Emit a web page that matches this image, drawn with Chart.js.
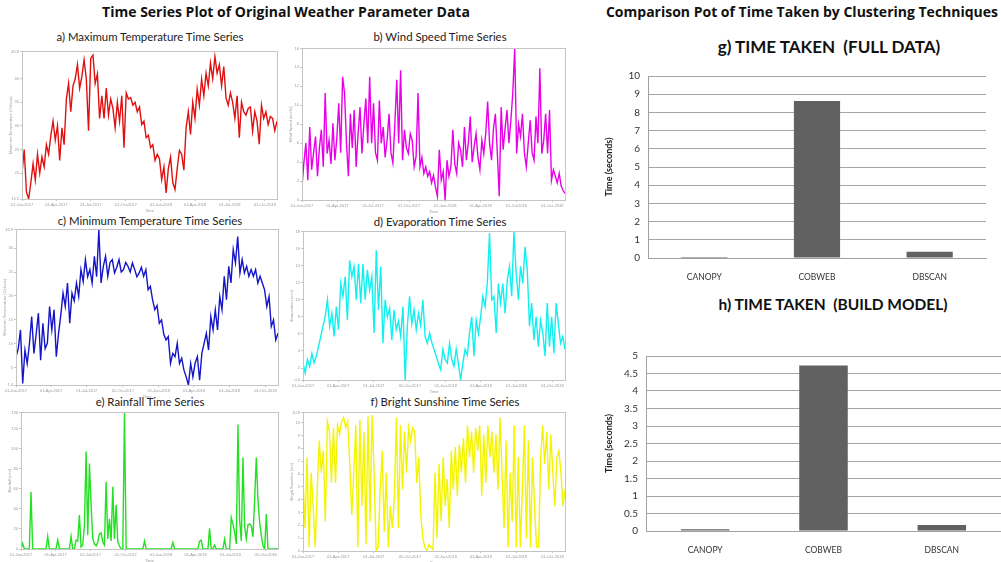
<!DOCTYPE html>
<html>
<head>
<meta charset="utf-8">
<script src="https://cdn.jsdelivr.net/npm/chart.js@4.4.1/dist/chart.umd.min.js"></script>
<style>
  html, body { margin: 0; padding: 0; background: #fff; }
  body { width: 1001px; height: 562px; position: relative; overflow: hidden; font-family: Lato, "Open Sans", sans-serif; }
  .box { position: absolute; }
  .head { position: absolute; font-family: "Open Sans", sans-serif; font-weight: bold; font-size: 14px; color: #111; white-space: nowrap; transform: translateX(-50%); }
  .sub { position: absolute; font-size: 11.4px; color: #222; white-space: nowrap; transform: translateX(-50%); }
  .btitle { position: absolute; font-weight: bold; color: #111; white-space: nowrap; transform: translateX(-50%); }
</style>
</head>
<body>
<div class="head" style="left:286px; top:2px;">Time Series Plot of Original Weather Parameter Data</div>
<div class="head" style="left:802px; top:2px;">Comparison Pot of Time Taken by Clustering Techniques</div>

<div class="sub" style="left:150px; top:30px;">a) Maximum Temperature Time Series</div>
<div class="sub" style="left:440px; top:30px;">b) Wind Speed Time Series</div>
<div class="sub" style="left:150px; top:214px;">c) Minimum Temperature Time Series</div>
<div class="sub" style="left:440px; top:215px;">d) Evaporation Time Series</div>
<div class="sub" style="left:150px; top:395px;">e) Rainfall Time Series</div>
<div class="sub" style="left:445px; top:395px;">f) Bright Sunshine Time Series</div>

<div class="btitle" style="left:829px; top:36px; font-size:17px;">g) TIME TAKEN&nbsp;&nbsp;(FULL DATA)</div>
<div class="btitle" style="left:833px; top:295px; font-size:15.5px;">h) TIME TAKEN&nbsp;&nbsp;(BUILD MODEL)</div>

<canvas id="cA" class="box" width="273" height="165" style="left:8px; top:48px;"></canvas>
<canvas id="cB" class="box" width="281" height="169" style="left:288px; top:45px;"></canvas>
<canvas id="cC" class="box" width="280" height="173" style="left:2px; top:226px;"></canvas>
<canvas id="cD" class="box" width="280" height="166" style="left:289px; top:228px;"></canvas>
<canvas id="cE" class="box" width="275" height="154" style="left:7px; top:409px;"></canvas>
<canvas id="cF" class="box" width="280" height="156" style="left:289px; top:409px;"></canvas>

<canvas id="cG" class="box" width="401" height="218" style="left:600px; top:62px;"></canvas>
<canvas id="cH" class="box" width="401" height="211" style="left:600px; top:342px;"></canvas>

<script>
// asse dei tempi (giorni dal 01-Jan-2017)
const dayTicks = [0, 90, 181, 273, 365, 455, 546, 638];
const dayLabels = ['01-Jan-2017', '01-Apr-2017', '01-Jul-2017', '01-Oct-2017', '01-Jan-2018', '01-Apr-2018', '01-Jul-2018', '01-Oct-2018'];
const lastDay = 670;

// a) temperatura massima
const maxTemp = [20, 25, 16, 14.5, 18, 22, 18.5, 24, 20, 23.4, 21.3,
  26, 24, 28, 31, 27, 30, 22.7, 29.6, 26, 35.7, 39,
  33, 38.5, 40, 43, 38, 40.5, 44, 40, 29, 44.3, 45,
  39, 41, 31.6, 36.4, 31.6, 38, 32.3, 35.7, 33.7, 29.6,
  35, 31, 36.4, 25.4, 37, 35.7, 36, 34.4, 35, 33,
  34, 30.3, 31, 27.5, 28, 25.4, 26, 22.7, 24, 23,
  18.6, 21.3, 15.8, 21, 23.4, 18, 16.5, 21, 24.8, 24, 20.6,
  29.6, 33, 28.2, 35, 31.6, 37.8, 34.4, 39.9, 36.4, 41.2,
  38.5, 43.3, 40, 44.7, 41.2, 43, 38.5, 42.6, 36, 34.4,
  37, 35, 31.6, 36.4, 27.5, 35, 33, 32.3, 33.7, 34,
  28.9, 33, 31, 26.1, 34.4, 31.6, 33, 30.3, 32, 31.6, 29, 31];

// b) velocita del vento
const windSpeed = [1.4, 4, 6, 2.1, 7.7, 3.2, 5, 6.7, 2.5, 5.5, 7.4, 3.5, 11.3, 4.9, 6.3, 3.8, 8.1, 4.2, 6.5, 10.2,
  5, 13, 11.3, 6, 2.5, 9.1, 5.5, 9.5, 3.5, 7, 9.8, 4.9, 8, 10.7, 6, 13, 6, 10.2, 5, 4.2,
  10.5, 6, 7.7, 4.5, 6.3, 9.1, 5, 3.9, 8, 12.7, 6, 13.7, 4.2, 7.4, 5.5, 4.9, 7, 6.3, 3.5, 4.6,
  11.3, 3.5, 4.5, 2.8, 3.5, 2.5, 3, 1.8, 2.6, 1.4, 0.4, 5.3, 2.1, 3, 0, 4.2, 2.5, 3.5, 7.4, 3.8,
  2.8, 6, 5.3, 3.5, 7.7, 4.2, 6, 8.8, 4, 5.6, 7, 4.5, 3.2, 6.3, 4.9, 7, 10.4, 6, 4.2, 7.5,
  9.1, 5, 0.4, 9.8, 5.3, 7.5, 9.5, 6, 8.4, 11.3, 16, 4.9, 8, 6.7, 9.1, 5, 3.5, 6, 8.4, 5,
  4.2, 8.8, 6, 13.9, 4.9, 6.3, 9.1, 4.9, 9.5, 2.1, 3.2, 2.5, 1.8, 2.8, 1.5, 1, 0.7];

// c) temperatura minima
const minTemp = [7.3, 9, 12.9, 1.7, 8.7, 5.9, 10, 15.7, 8, 12, 16.4, 6.6,
  14.3, 9, 10.1, 17.8, 12.9, 17.1, 7.3, 12.2, 16, 20.6, 17.8, 22.7, 14.3, 20.6,
  19, 22.7, 19.9, 25.5, 23, 27.6, 24, 25.5, 22.7, 28.3, 24, 33.8, 22.7, 26.2, 28.3,
  24.1, 27, 27.6, 24.8, 26, 27.6, 25, 25.5, 27, 26.2, 25, 26.9, 25.5, 24, 24.8, 26, 24.1, 25.5,
  21.3, 22, 19.2, 17.1, 18, 14.3, 15, 12, 10.8, 11.5, 5.9, 8, 7.3, 10.1, 5.9, 7, 4.5, 3.1, 1.4,
  5.9, 3.1, 6, 7.3, 2.4, 8, 10.1, 12.2, 8.7, 15.7, 12.9, 17.1, 12.9, 19.9, 17.1, 24.1, 19.2,
  26.2, 22.7, 29.7, 26.9, 32.4, 24.8, 27.6, 24.8, 26.2, 24.1, 25.5, 24.1, 25.5, 22.7, 24.1,
  22.7, 21.3, 17.8, 19.9, 13.6, 15, 10.8, 12.2];

// d) evaporazione
const evaporation = [2.6, 1.4, 3, 2.2, 3.7, 2.6, 3.4, 4.5, 5.7, 6.9, 8, 10, 6.9, 8.4, 5.7, 9.2, 6.5, 11.9, 10.4, 12.7,
  7.6, 14.6, 12.7, 13.9, 10, 14.2, 9.6, 14.2, 10, 13.5, 11.1, 12.7, 6.1, 15.8, 8.8, 13.9, 4.9, 10, 8, 9,
  5.3, 8.8, 6.5, 7.5, 5.7, 9.2, 0.6, 6.9, 10.4, 7.2, 8.8, 6.5, 8.4, 7, 10, 5.7, 4.9, 6.1, 5, 4.2,
  3.4, 2.5, 1.8, 4.2, 3, 2.6, 4.9, 3, 2.2, 4.2, 2.5, 0.6, 2.6, 4.2, 3.5, 6.1, 8, 3.4, 7.6, 6,
  8, 10.4, 9.2, 11.9, 17.8, 10, 10.4, 6.1, 11.9, 9.6, 11.9, 8.4, 12.3, 13.9, 10.4, 18, 13.1, 10, 13.9, 11.9,
  16.2, 13.5, 6.9, 9.6, 5.3, 8, 4.5, 7.6, 6.1, 3.4, 9.6, 4.5, 8, 3.7, 9.6, 7.2, 4.9, 5.7, 4.2];

// e) pioggia
const rainfall = [0, 5.5, 0, 0, 0, 0, 57, 0, 0, 0,
  0, 0, 0, 0, 0, 0, 12.6, 0, 0, 0,
  0, 0, 8.8, 0, 0, 0, 0, 0, 0, 0,
  12.6, 0, 0, 8.8, 7.8, 33.7, 2, 3.9, 22.7, 97,
  13.6, 85, 44, 10.4, 5, 3, 7, 15, 16, 7,
  4, 67, 10, 30, 8, 62, 10, 44, 7, 3,
  0, 0, 136, 0, 0, 0, 0, 0, 0, 0,
  0, 0, 0, 0, 7.8, 0, 0, 0, 0, 0,
  0, 0, 0, 0, 0, 0, 0, 0, 0, 0,
  0, 6.5, 0, 0, 0, 0, 0, 0, 0, 0,
  0, 0, 0, 0, 0, 0, 0, 7.8, 8.8, 0,
  0, 0, 0, 20.7, 0, 0, 3.9, 0, 0, 0,
  0, 0, 9.7, 0, 0, 0, 31.4, 25, 16.8, 5,
  124, 29, 8, 91, 23, 10, 24, 25, 23, 12,
  49, 91, 49, 26.6, 13.6, 3, 0, 34.7, 0, 0,
  0, 0, 0, 0, 0];

// f) ore di sole
const sunshine = [5.8, 1.8, 7.3, 0.3, 6.1, 3.5, 0.3, 4.8, 8.6, 6.1, 7.8, 2.3, 10.1, 9.3, 5.3, 9.6, 5.3, 9.8, 9.1, 10.1,
  10.4, 9.6, 10.1, 6.8, 2.8, 6.1, 9.8, 0.3, 10.2, 3.5, 9.3, 0.5, 10.5, 2.3, 10.6, 6.1, 0, 0.3, 4.8, 7.8,
  1.5, 6.1, 0.3, 3.5, 1.8, 4.3, 10.4, 1.8, 9.8, 4.8, 9.3, 6.1, 9.6, 8.6, 9.6, 9.3, 5.3, 7.3, 2.8, 1,
  0.3, 0, 0.5, 0.3, 0.1, 6.1, 1, 6.8, 2.3, 7.3, 3.5, 5.6, 1.8, 7.8, 4.8, 8.1, 4.3, 8.3, 6.1, 8.8,
  5.3, 9.8, 7.3, 9.3, 6.1, 9.6, 7.8, 9.8, 4.3, 9.1, 5.3, 9.8, 7.3, 9.3, 6.1, 9.1, 4.8, 10.4, 6.1, 1.8,
  8.6, 0.3, 6.1, 2.3, 9.8, 0.3, 7.3, 0.3, 4.8, 9.8, 1, 8.6, 0.3, 7.3, 3.5, 0.3, 0.3, 7.3, 9.8, 6.8,
  9.3, 4.8, 9.1, 6.1, 3.5, 7.3, 7.8, 6.1, 3.5, 4.8];

// g) e h) tempi dei clustering
const techniques = ['CANOPY', 'COBWEB', 'DBSCAN'];
const timeFullData = [0.05, 8.62, 0.35];
const timeBuildModel = [0.05, 4.73, 0.17];

// cornice grigia attorno all'area del grafico
const framePlugin = {
  id: 'frame',
  afterDraw(chart) {
    const a = chart.chartArea;
    const ctx = chart.ctx;
    ctx.save();
    ctx.strokeStyle = '#c4c4c4';
    ctx.lineWidth = 1;
    ctx.strokeRect(Math.round(a.left) + 0.5, Math.round(a.top) + 0.5, Math.round(a.right - a.left), Math.round(a.bottom - a.top));
    ctx.restore();
  }
};

const tinyFont = { family: 'Liberation Sans', size: 4 };

function timeSeries(id, values, color, yMin, yMax, yStep, yTitle) {
  const pts = values.map((v, i) => ({ x: i * lastDay / (values.length - 1), y: v }));
  return new Chart(document.getElementById(id), {
    type: 'line',
    data: { datasets: [{ data: pts, borderColor: color, borderWidth: 1.4, pointRadius: 0, tension: 0, fill: false }] },
    options: {
      responsive: false,
      animation: false,
      devicePixelRatio: 1,
      layout: { padding: { top: 2, right: 4, left: 0, bottom: 0 } },
      plugins: { legend: { display: false }, tooltip: { enabled: false } },
      scales: {
        x: {
          type: 'linear', min: 0, max: lastDay,
          afterBuildTicks: s => { s.ticks = dayTicks.map(v => ({ value: v })); },
          afterFit: s => { s.height = 14; },
          ticks: { font: tinyFont, color: '#9a9a9a', maxRotation: 0, padding: 1,
            callback: v => dayLabels[dayTicks.indexOf(v)] },
          grid: { drawOnChartArea: false, tickLength: 2, color: '#c4c4c4' },
          border: { color: '#c4c4c4' },
          title: { display: true, text: 'Time', font: tinyFont, color: '#9a9a9a', padding: 0 }
        },
        y: {
          min: yMin, max: yMax,
          afterFit: s => { s.width = 14; },
          ticks: { stepSize: yStep, font: tinyFont, color: '#9a9a9a', padding: 1 },
          grid: { drawOnChartArea: false, tickLength: 2, color: '#c4c4c4' },
          border: { color: '#c4c4c4' },
          title: { display: true, text: yTitle, font: tinyFont, color: '#9a9a9a', padding: 0 }
        }
      }
    },
    plugins: [framePlugin]
  });
}

timeSeries('cA', maxTemp, '#e01010', 14.5, 45.8, 5, 'Maximum Temperature (Celsius)');
timeSeries('cB', windSpeed, '#e800e8', 0, 16, 2, 'Wind Speed (km/hr)');
timeSeries('cC', minTemp, '#1414c8', 1.4, 33.9, 5, 'Minimum Temperature (Celsius)');
timeSeries('cD', evaporation, '#10f0f0', 0.6, 18, 2, 'Evaporation (mm)');
timeSeries('cE', rainfall, '#22e022', 0, 136, 20, 'Rainfall (mm)');
timeSeries('cF', sunshine, '#f4f400', 0, 10.8, 1, 'Bright Sunshine (hrs)');

function timeBars(id, values, yMax, yStep, yW, padRight, padTop, titlePad) {
  return new Chart(document.getElementById(id), {
    type: 'bar',
    data: { labels: techniques, datasets: [{ data: values, backgroundColor: '#616161', barPercentage: 0.41, categoryPercentage: 1 }] },
    options: {
      responsive: false,
      animation: false,
      devicePixelRatio: 1,
      layout: { padding: { top: padTop, right: padRight, left: 0, bottom: 0 } },
      plugins: { legend: { display: false }, tooltip: { enabled: false } },
      scales: {
        x: {
          afterFit: s => { s.height = 22; },
          ticks: { font: { family: 'Lato', size: 8.5 }, color: '#333', padding: 6 },
          grid: { display: false },
          border: { color: '#a0a0a0' }
        },
        y: {
          min: 0, max: yMax,
          afterFit: s => { s.width = yW; },
          ticks: { stepSize: yStep, font: { family: 'Lato', size: 10 }, color: '#333', padding: 8,
            callback: v => String(v) },
          grid: { color: '#a6a6a6', tickLength: 0 },
          border: { color: '#a0a0a0' },
          title: { display: true, text: 'Time (seconds)', font: { family: 'Lato', size: 9, weight: 'bold' }, color: '#222', padding: titlePad }
        }
      }
    }
  });
}

timeBars('cG', timeFullData, 10, 1, 48, 15, 9, 4);
timeBars('cH', timeBuildModel, 5, 0.5, 46, 0, 9, { top: 4, bottom: 0 });
</script>
</body>
</html>
